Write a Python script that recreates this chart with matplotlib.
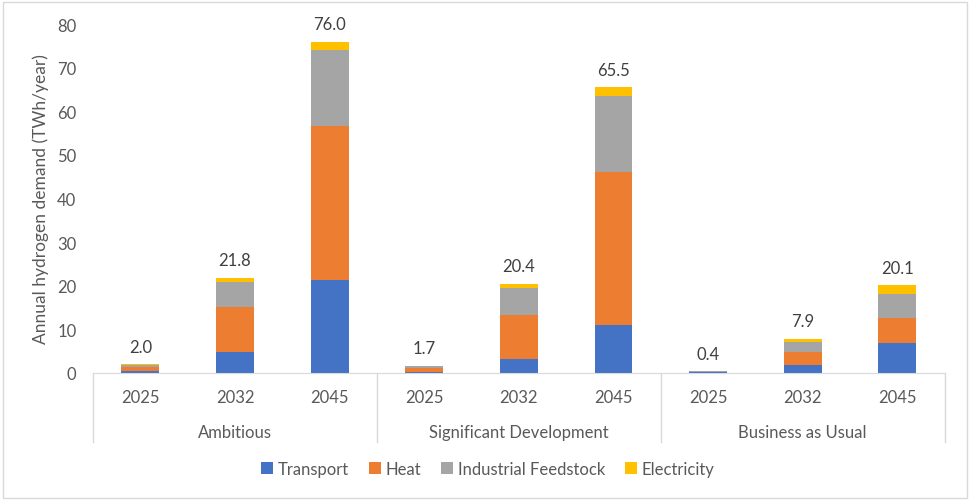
import matplotlib.pyplot as plt
from matplotlib.patches import Rectangle
import numpy as np

scenarios = ["Ambitious", "Significant Development", "Business as Usual"]
years = ["2025", "2032", "2045"]
series_names = ["Transport", "Heat", "Industrial Feedstock", "Electricity"]
colors = ["#4472C4", "#ED7D31", "#A5A5A5", "#FFC000"]

# values per bar: Ambitious 2025/2032/2045, Significant 2025/2032/2045, BAU 2025/2032/2045
transport = [0.5, 4.8, 21.3, 0.3, 3.3, 11.0, 0.2, 1.9, 6.8]
heat = [0.9, 10.3, 35.3, 0.8, 10.1, 35.2, 0.1, 2.8, 5.9]
industrial = [0.5, 5.8, 17.5, 0.6, 6.1, 17.4, 0.1, 2.3, 5.5]
electricity = [0.1, 0.9, 1.9, 0.0, 0.9, 1.9, 0.0, 0.9, 1.9]
totals = [2.0, 21.8, 76.0, 1.7, 20.4, 65.5, 0.4, 7.9, 20.1]

plt.rcParams['font.family'] = ['Lato', 'DejaVu Sans']
text_color = "#595959"
line_color = "#D9D9D9"

fig = plt.figure(figsize=(9.7, 5.02), dpi=100)
ax = fig.add_axes([0.0959, 0.255, 0.878, 0.695])

x = np.arange(len(totals))
bottom = np.zeros(len(totals))
for name, vals, c in zip(series_names, [transport, heat, industrial, electricity], colors):
    ax.bar(x, vals, width=0.4, bottom=bottom, color=c, label=name, zorder=2)
    bottom += np.array(vals)

for xi, t in zip(x, totals):
    ax.text(xi, t + 2.2, f"{t:.1f}", ha='center', va='bottom', fontsize=12, color="#404040")

ax.set_xlim(-0.5, len(totals) - 0.5)
ax.set_ylim(0, 80)
ax.set_yticks(range(0, 81, 10))
ax.tick_params(axis='y', length=0, labelsize=12, labelcolor=text_color, pad=12)
ax.set_xticks([])
for s in ['top', 'right', 'left']:
    ax.spines[s].set_visible(False)
ax.spines['bottom'].set_color(line_color)
ax.set_ylabel("Annual hydrogen demand (TWh/year)", fontsize=12.5, color=text_color, labelpad=6)

# two-level category axis
trans = ax.get_xaxis_transform()
for xi in x:
    ax.text(xi, -0.068, years[xi % 3], transform=trans, ha='center', va='center',
            fontsize=12, color=text_color)
for gi, sc in enumerate(scenarios):
    ax.text(gi * 3 + 1, -0.168, sc, transform=trans, ha='center', va='center',
            fontsize=12, color=text_color)
for b in [-0.5, 2.5, 5.5, 8.5]:
    ax.plot([b, b], [0, -0.198], transform=trans, color=line_color, lw=1, clip_on=False)

leg = fig.legend(loc='center', bbox_to_anchor=(0.503, 0.064), ncol=4, frameon=False,
                 fontsize=12, handlelength=0.7, handleheight=0.7, handletextpad=0.3,
                 columnspacing=1.2)
for t in leg.get_texts():
    t.set_color(text_color)

fig.patches.append(Rectangle((0.003, 0.005), 0.994, 0.99, transform=fig.transFigure,
                             fill=False, edgecolor=line_color, lw=1))

fig.savefig("out.png", dpi=100)
